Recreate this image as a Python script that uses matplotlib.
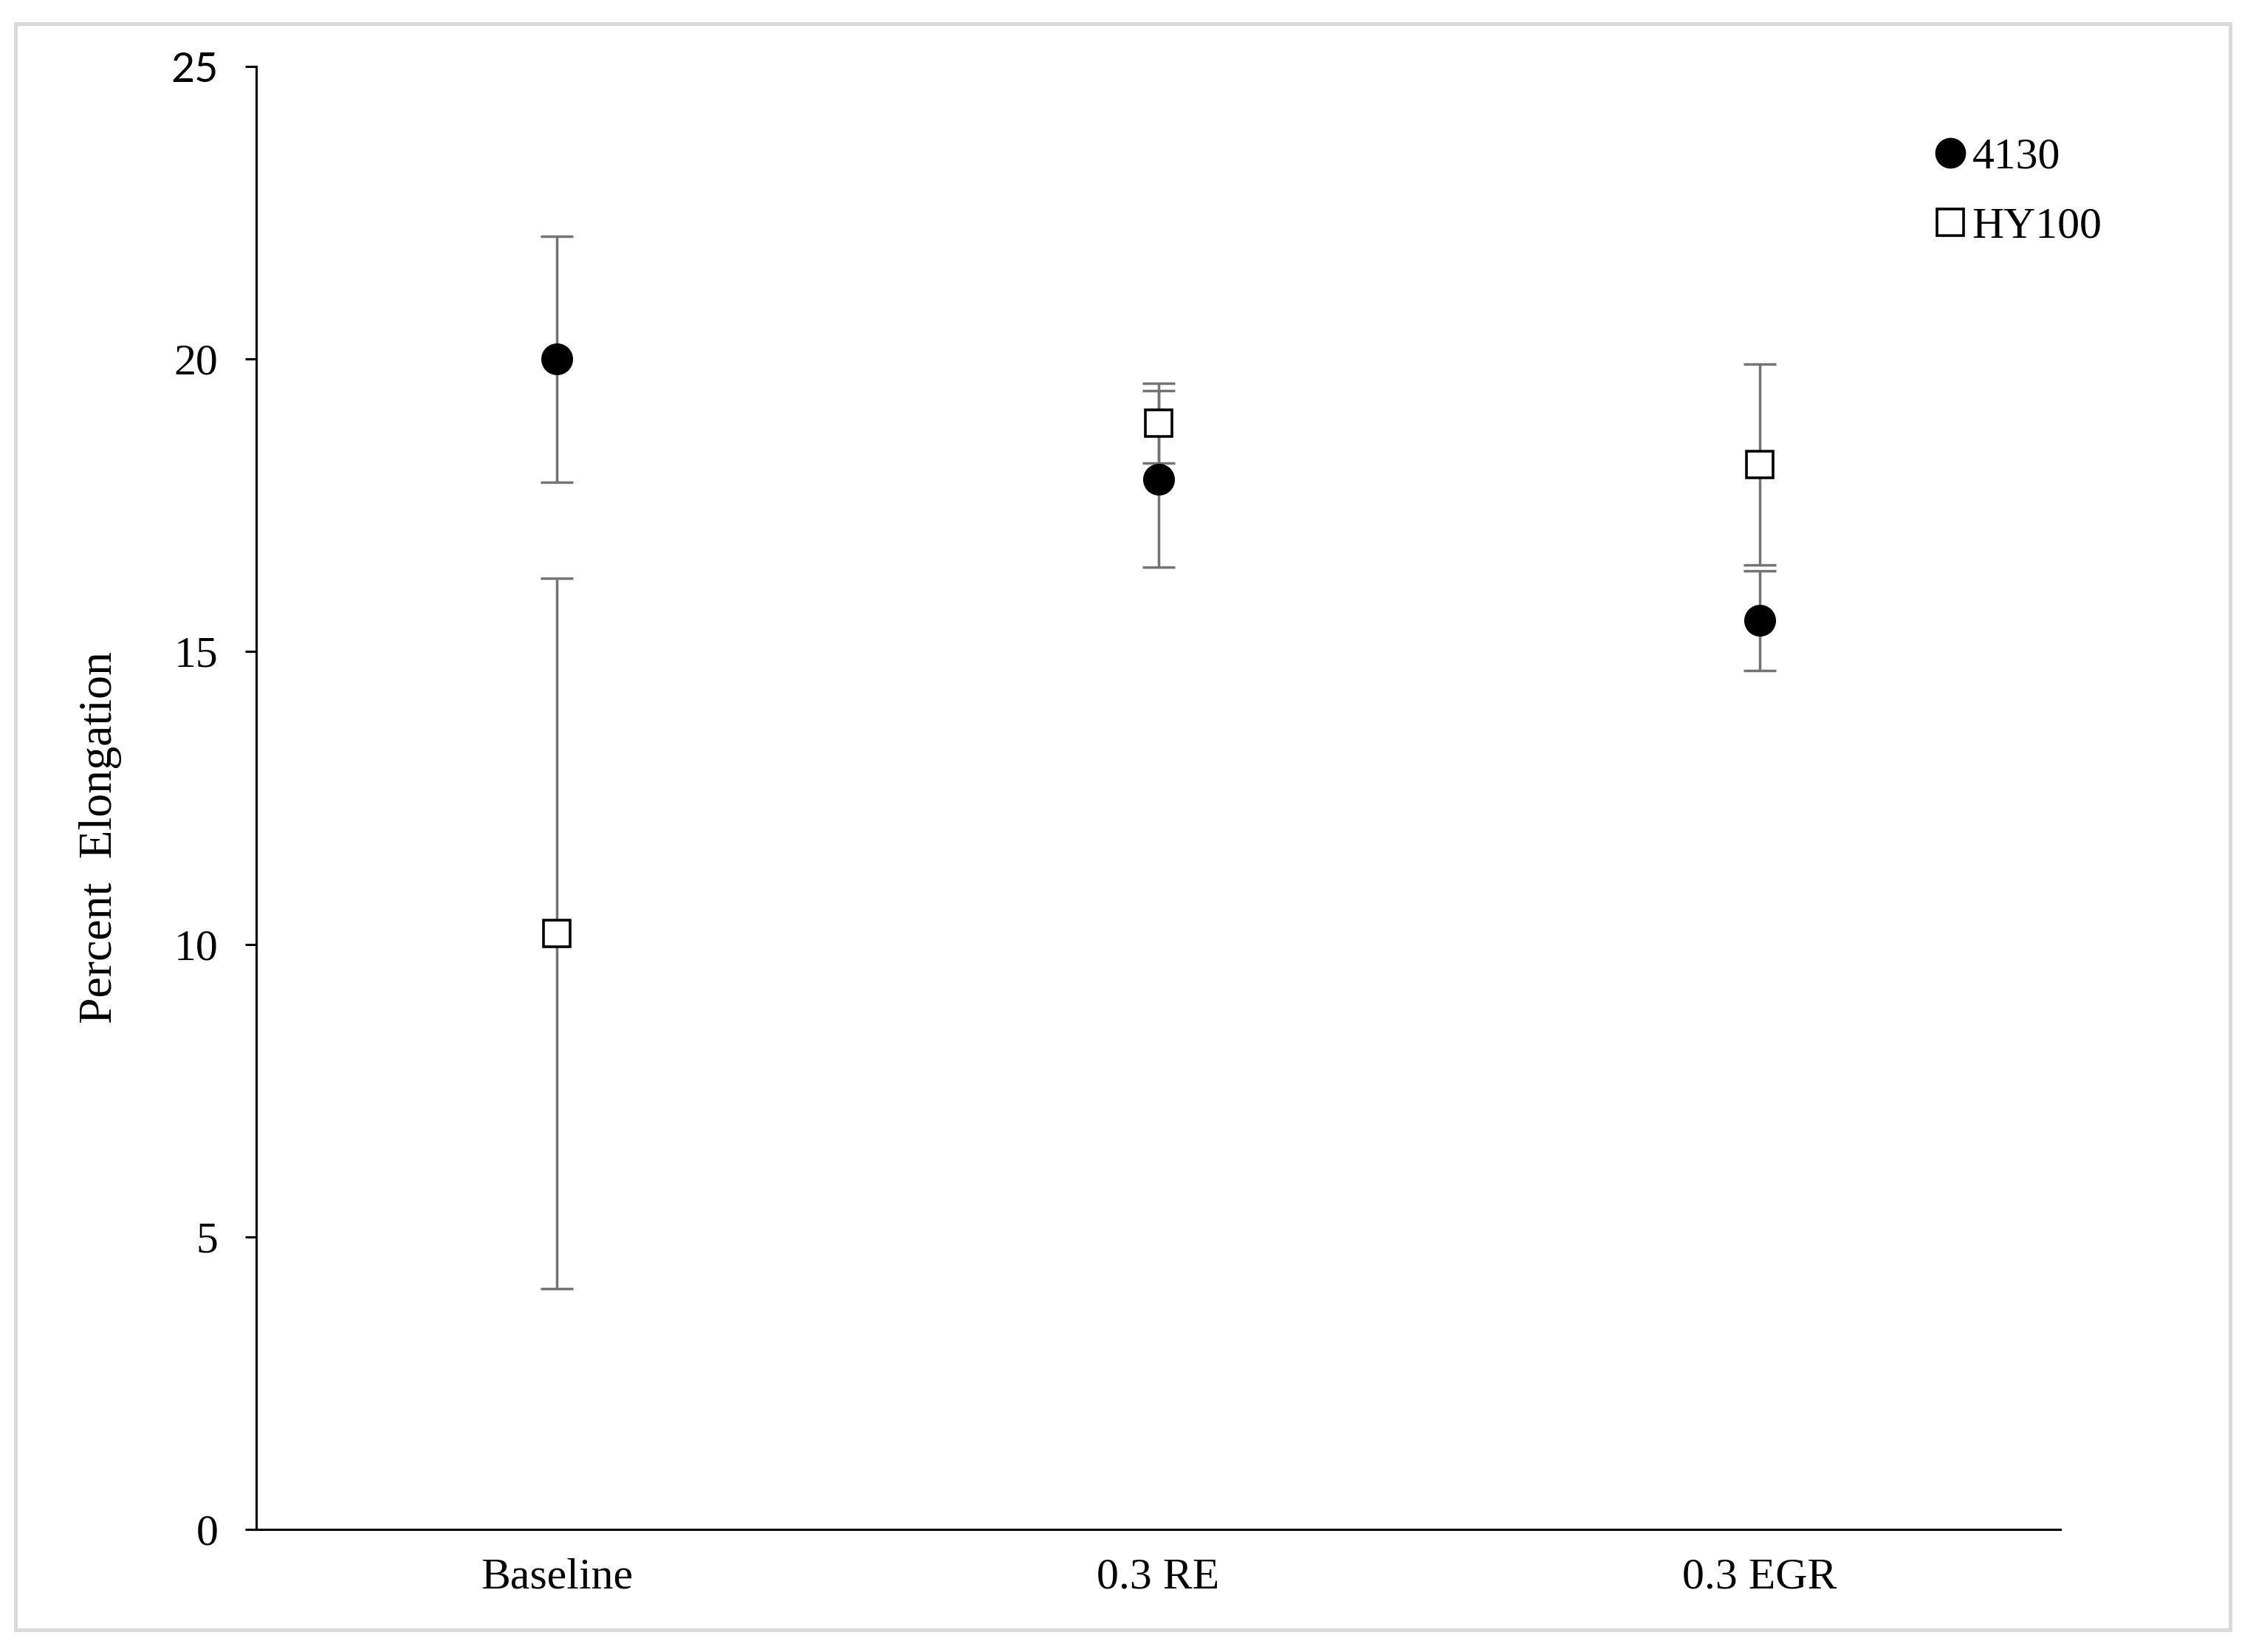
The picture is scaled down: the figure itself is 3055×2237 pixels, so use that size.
import matplotlib
matplotlib.use("Agg")
import matplotlib.pyplot as plt
from matplotlib.lines import Line2D
from matplotlib.patches import Rectangle

categories = ["Baseline", "0.3 RE", "0.3 EGR"]
series_names = ["4130", "HY100"]
vals_4130 = [20.0, 17.95, 15.53]
err_4130 = [2.1, 1.51, 0.85]
vals_hy100 = [10.18, 18.9, 18.2]
err_hy100 = [6.07, 0.68, 1.72]
yticks = [0, 5, 10, 15, 20, 25]

plt.rcParams['font.family'] = ['Liberation Serif', 'DejaVu Serif']

W, H = 3055, 2237
fig = plt.figure(figsize=(W / 100, H / 100), dpi=100)
ax = fig.add_axes([347 / W, 1 - 2071 / H, (2790 - 347) / W, (2071 - 90) / H])

x = list(range(len(categories)))
ecol = '#737373'
ax.errorbar(x, vals_4130, yerr=err_4130, fmt='none', ecolor=ecol,
            elinewidth=2.5, capsize=16, capthick=2.5, zorder=2)
ax.errorbar(x, vals_hy100, yerr=err_hy100, fmt='none', ecolor=ecol,
            elinewidth=2.5, capsize=16, capthick=2.5, zorder=2)
ax.plot(x, vals_4130, linestyle='none', marker='o', markersize=30,
        markerfacecolor='black', markeredgecolor='black', zorder=3)
ax.plot(x, vals_hy100, linestyle='none', marker='s', markersize=26,
        markerfacecolor='white', markeredgecolor='black', markeredgewidth=2.6, zorder=4)

ax.set_xlim(-0.5, len(categories) - 0.5)
ax.set_ylim(0, 25)
ax.set_xticks(x)
ax.set_xticklabels(categories)
ax.set_yticks(yticks)
ax.set_yticklabels([str(t) for t in yticks])
ax.tick_params(axis='x', length=0, pad=28, labelsize=43)
ax.tick_params(axis='y', length=11, width=2.2, pad=26, labelsize=43, direction='out')
# top tick label rendered in a sans face in the reference
ax.get_yticklabels()[-1].set_fontfamily(['Lato', 'DejaVu Sans'])
ax.get_yticklabels()[-1].set_fontsize(40)

for s in ['top', 'right']:
    ax.spines[s].set_visible(False)
for s in ['left', 'bottom']:
    ax.spines[s].set_linewidth(2.2)
    ax.spines[s].set_color('black')

fig.text(136 / W, 1 - 1134 / H, "Percent  Elongation", rotation=90,
         ha='center', va='center', fontsize=46)

handles = [
    Line2D([], [], linestyle='none', marker='o', markersize=29,
           markerfacecolor='black', markeredgecolor='black'),
    Line2D([], [], linestyle='none', marker='s', markersize=26,
           markerfacecolor='white', markeredgecolor='black', markeredgewidth=2.6),
]
fig.legend(handles, series_names, loc='upper left',
           bbox_to_anchor=(2590 / W, 1 - 156 / H), frameon=False,
           borderpad=0, handlelength=0.7, handletextpad=0.15,
           labelspacing=0.66, fontsize=43)

fig.patches.append(Rectangle((21 / W, 1 - 2207 / H), (3020 - 21) / W, (2207 - 32) / H,
                             transform=fig.transFigure, fill=False,
                             edgecolor='#d9d9d9', linewidth=3.5))

fig.savefig("out.png", dpi=100, facecolor='white')
